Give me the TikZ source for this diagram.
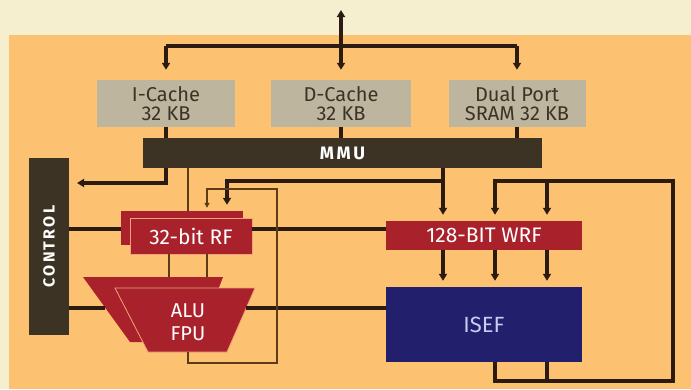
\documentclass[tikz,border=0pt]{standalone}
\usepackage{fontspec}
\setmainfont{Fira Sans}
\newfontfamily\spaced[LetterSpace=14]{Fira Sans}
\usetikzlibrary{arrows.meta}
\definecolor{cream}{HTML}{F6EFCF}
\definecolor{panel}{HTML}{FCC272}
\definecolor{cachegray}{HTML}{BDB59E}
\definecolor{cachetext}{HTML}{3A3326}
\definecolor{bar}{HTML}{3C3324}
\definecolor{rfred}{HTML}{A9222B}
\definecolor{edge}{HTML}{F2A27A}
\definecolor{isefblue}{HTML}{221F6C}
\definecolor{iseftext}{HTML}{C8CCF2}
\definecolor{wirecol}{HTML}{2B1B10}
\definecolor{thincol}{HTML}{5C3B15}

\begin{document}
\begin{tikzpicture}[x=1pt,y=-1pt,
  cache/.style={fill=cachegray,text=cachetext,minimum width=138pt,minimum height=47pt,
    inner sep=0pt,align=center,font=\fontsize{20}{19}\selectfont},
  darkbar/.style={fill=bar,inner sep=0pt},
  regbox/.style={fill=rfred,text=white,inner sep=0pt,font=\fontsize{21}{22}\selectfont},
  wire/.style={draw=wirecol,line width=3.3pt},
  thinwire/.style={draw=thincol,line width=1.3pt},
  tip/.style={-{Triangle[length=7pt,width=8pt]},shorten >=6pt},
  smalltip/.style={-{Triangle[length=5pt,width=5pt]},shorten >=3pt}]

  \fill[cream] (0,0) rectangle (691,389);
  \fill[panel] (9,35) rectangle (691,389);

  \node[cache] (icache) at (166,103.5) {I-Cache\\32 KB};
  \node[cache,minimum width=140pt] (dcache) at (341,103.5) {D-Cache\\32 KB};
  \node[cache,minimum width=137pt] (dport) at (517,103.5) {Dual Port\\SRAM 32 KB};
  \node[darkbar,minimum width=399pt,minimum height=30pt,text=white,
    font=\fontsize{18}{20}\selectfont\bfseries\spaced] (mmu) at (342.5,153) {MMU};
  \node[darkbar,minimum width=40pt,minimum height=177pt] (control) at (49,246.5) {};
  \node[rotate=90,text=white,font=\fontsize{16}{18}\selectfont\bfseries\spaced]
    (ctltext) at (control.center) {CONTROL};

  \node[regbox,minimum width=122pt,minimum height=34pt] (rfback) at (182,228) {};
  \node[regbox,draw=edge,line width=0.8pt,minimum width=122pt,minimum height=36pt]
    (rffront) at (191,236) {32-bit RF};
  \node[regbox,minimum width=196pt,minimum height=29pt] (wrf) at (484,235.5) {128-BIT WRF};
  \node[fill=isefblue,text=iseftext,inner sep=0pt,minimum width=196pt,minimum height=75pt,
    font=\fontsize{22}{24}\selectfont] (isef) at (484,324.5) {ISEF};

  \coordinate (bA) at (83,277);
  \coordinate (bB) at (223,277);
  \coordinate (bC) at (198,342);
  \coordinate (bD) at (130,342);
  \coordinate (fA) at (115,288);
  \coordinate (fB) at (255,288);
  \coordinate (fC) at (227,352);
  \coordinate (fD) at (148,352);
  \fill[rfred] (bA) -- (bB) -- (bC) -- (bD) -- cycle;
  \filldraw[fill=rfred,draw=edge,line width=0.8pt] (fA) -- (fB) -- (fC) -- (fD) -- cycle;
  \node[align=center,text=white,font=\fontsize{20}{23}\selectfont] (alu) at (188,322) {ALU\\FPU};

  \coordinate (up)    at (341,10);
  \coordinate (fork)  at (341,46);
  \coordinate (ctl)   at (69,183);
  \coordinate (mmuR)  at (443,0);
  \coordinate (rfin)  at (227,181);
  \coordinate (wA)    at (495,0);
  \coordinate (wB)    at (547,0);
  \coordinate (rb)    at (673,381);
  \coordinate (rt)    at (673,181);
  \coordinate (rowA)  at (0,229);
  \coordinate (rowB)  at (0,308);
  \coordinate (aluIn) at (105,308);
  \coordinate (aluOut) at (246,308);
  \coordinate (tA)    at (188,0);
  \coordinate (tB)    at (169,0);
  \coordinate (tC)    at (207,0);
  \coordinate (lpA)   at (188,363);
  \coordinate (lpB)   at (277,189);

  \draw[wire,-{Triangle[length=7pt,width=8pt]}] (fork) -- (up);
  \draw[wire] (icache.north |- fork) -- (dport.north |- fork);
  \foreach \b in {icache,dcache,dport}
    \draw[wire,tip,shorten >=10pt] (\b.north |- fork) -- (\b.north);
  \foreach \b in {icache,dcache,dport}
    \draw[wire] (\b.south) -- (\b.south |- mmu.north);

  \draw[wire,tip,shorten >=8pt] (icache.south |- mmu.south) |- (ctl);
  \draw[wire,tip] (mmu.south -| mmuR) -- (wrf.north -| mmuR);
  \draw[wire,tip] (mmu.south -| mmuR) |- (rfin) -- (rfback.north -| rfin);
  \draw[thinwire] (mmu.south -| tA) -- (rfback.north -| tA);

  \draw[wire] (control.east |- rowA) -- (rfback.west |- rowA);
  \draw[wire] (rffront.east |- rowA) -- (wrf.west |- rowA);
  \draw[wire] (control.east |- rowB) -- (aluIn);
  \draw[wire] (aluOut) -- (isef.west |- rowB);

  \draw[thinwire] (rffront.south -| tB) -- (bA -| tB);
  \draw[thinwire] (rffront.south -| tC) -- (bA -| tC);
  \draw[thinwire,smalltip] (fD -| tA) -- (lpA) -| (lpB) -| (rfback.north -| tC);

  \foreach \c in {mmuR,wA,wB}
    \draw[wire,tip] (wrf.south -| \c) -- (isef.north -| \c);
  \draw[wire,tip] (isef.south -| wA) |- (rb) -- (rt) -| (wrf.north -| wA);
  \draw[wire] (isef.south -| wB) -- (rb -| wB);
  \draw[wire,tip] (rt -| wB) -- (wrf.north -| wB);
\end{tikzpicture}
\end{document}
